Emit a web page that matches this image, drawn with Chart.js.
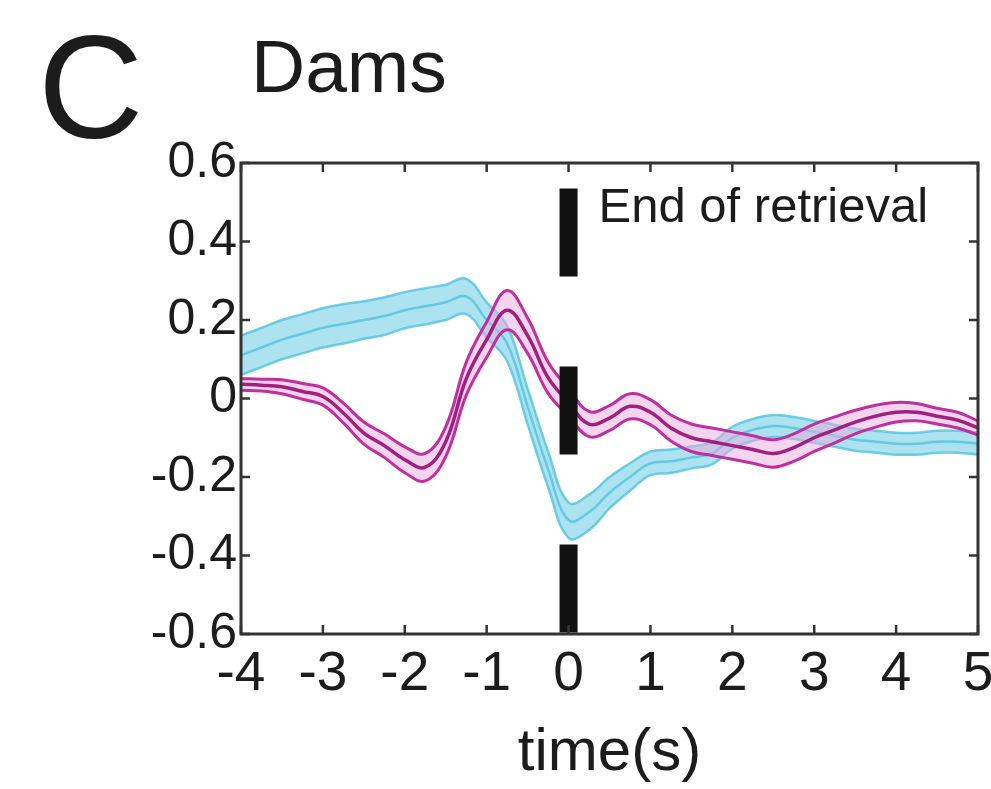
<!DOCTYPE html>
<html><head><meta charset="utf-8">
<script src="https://cdn.jsdelivr.net/npm/chart.js@4.4.1/dist/chart.umd.min.js"></script>
<style>html,body{margin:0;padding:0;background:#fff;} #wrap{position:relative;width:991px;height:789px;}</style>
</head><body><div id="wrap"><canvas id="c" width="991" height="789"></canvas></div>
<script>
// ---- data ----
const panelLetter = 'C';
const panelTitle = 'Dams';
const eventLabel = 'End of retrieval';
const xTitle = 'time(s)';
const xTicks = [-4, -3, -2, -1, 0, 1, 2, 3, 4, 5];
const yTicks = [-0.6, -0.4, -0.2, 0, 0.2, 0.4, 0.6];
const yTickLabels = ['-0.6', '-0.4', '-0.2', '0', '0.2', '0.4', '0.6'];

const timeS = [-4, -3.75, -3.5, -3.25, -3, -2.75, -2.5, -2.25, -2, -1.75, -1.5, -1.25, -1, -0.75, -0.5, -0.25,
  0, 0.25, 0.5, 0.75, 1, 1.25, 1.5, 1.75, 2, 2.25, 2.5, 2.75, 3, 3.25, 3.5, 3.75, 4, 4.25, 4.5, 4.75, 5];

const magentaMean = [0.036, 0.034, 0.03, 0.018, 0.005, -0.037, -0.088, -0.12, -0.156, -0.175, -0.11, 0.05, 0.15, 0.225, 0.16, 0.053,
  -0.01, -0.065, -0.05, -0.02, -0.035, -0.075, -0.1, -0.11, -0.12, -0.13, -0.14, -0.125, -0.1, -0.08, -0.06, -0.045, -0.035, -0.035, -0.045, -0.055, -0.075];
const magentaSem = [0.015, 0.015, 0.018, 0.02, 0.022, 0.025, 0.028, 0.03, 0.033, 0.035, 0.038, 0.042, 0.045, 0.05, 0.045, 0.04,
  0.035, 0.032, 0.032, 0.032, 0.032, 0.033, 0.035, 0.035, 0.035, 0.035, 0.035, 0.035, 0.035, 0.033, 0.03, 0.028, 0.025, 0.022, 0.02, 0.02, 0.018];

const cyanMean = [0.11, 0.13, 0.15, 0.165, 0.18, 0.19, 0.2, 0.21, 0.225, 0.235, 0.245, 0.26, 0.2, 0.14, -0.02, -0.18,
  -0.31, -0.29, -0.24, -0.2, -0.165, -0.16, -0.15, -0.14, -0.1, -0.08, -0.07, -0.075, -0.085, -0.095, -0.105, -0.11, -0.115, -0.115, -0.11, -0.11, -0.115];
const cyanSem = [0.05, 0.05, 0.05, 0.05, 0.05, 0.05, 0.048, 0.048, 0.046, 0.046, 0.045, 0.045, 0.045, 0.045, 0.045, 0.045,
  0.045, 0.045, 0.04, 0.035, 0.03, 0.03, 0.028, 0.028, 0.028, 0.028, 0.028, 0.028, 0.028, 0.028, 0.028, 0.028, 0.028, 0.028, 0.028, 0.028, 0.028];

const eventTime = 0;
const eventBarTop = 0.535;
const eventBarBottom = -0.6;

// ---- build ----
const pts = (m, s, k) => timeS.map((t, i) => ({x: t, y: m[i] + k * s[i]}));
const FONT = "'Liberation Sans', Arial, Helvetica, sans-serif";
const INK = '#1c1c1c';

const CYAN_LINE = 'rgba(88,198,222,0.85)';
const CYAN_FILL = 'rgba(105,203,227,0.55)';
const MAG_LINE = '#c02f9e';
const MAG_MEAN = '#a0207f';
const MAG_FILL = 'rgba(236,170,222,0.5)';

const frameTicks = {
  id: 'frameTicks',
  afterDatasetsDraw(chart) {
    const {ctx, chartArea: a, scales: {x, y}} = chart;
    ctx.save();
    ctx.strokeStyle = '#333';
    ctx.lineWidth = 2.5;
    const L = 9;
    ctx.beginPath();
    xTicks.forEach(v => {
      const px = x.getPixelForValue(v);
      ctx.moveTo(px, a.bottom); ctx.lineTo(px, a.bottom - L);
      ctx.moveTo(px, a.top); ctx.lineTo(px, a.top + L);
    });
    yTicks.forEach(v => {
      const py = y.getPixelForValue(v);
      ctx.moveTo(a.left, py); ctx.lineTo(a.left + L, py);
      ctx.moveTo(a.right, py); ctx.lineTo(a.right - L, py);
    });
    ctx.stroke();
    ctx.lineWidth = 3;
    ctx.strokeRect(a.left, a.top, a.right - a.left, a.bottom - a.top);
    // annotation text
    ctx.fillStyle = INK;
    ctx.font = '49px ' + FONT;
    ctx.textBaseline = 'alphabetic';
    ctx.textAlign = 'left';
    ctx.fillText(eventLabel, x.getPixelForValue(eventTime) + 30, 222);
    // panel letter and title
    ctx.font = '146px ' + FONT;
    ctx.fillText(panelLetter, 38, 138);
    ctx.font = '75px ' + FONT;
    ctx.fillText(panelTitle, 251, 92);
    ctx.restore();
  }
};

new Chart(document.getElementById('c'), {
  type: 'line',
  data: {
    datasets: [
      {data: [{x: eventTime, y: eventBarTop}, {x: eventTime, y: eventBarBottom}], borderColor: '#111', borderWidth: 18,
        borderDash: [88, 90], borderCapStyle: 'butt', pointRadius: 0, fill: false, order: 0},
      {data: pts(magentaMean, magentaSem, 1), borderColor: MAG_LINE, borderWidth: 3, backgroundColor: MAG_FILL, fill: '+1', pointRadius: 0, tension: 0.4, order: 3},
      {data: pts(magentaMean, magentaSem, -1), borderColor: MAG_LINE, borderWidth: 3, pointRadius: 0, fill: false, tension: 0.4, order: 2},
      {data: pts(magentaMean, magentaSem, 0), borderColor: MAG_MEAN, borderWidth: 3.5, pointRadius: 0, fill: false, tension: 0.4, order: 1},
      {data: pts(cyanMean, cyanSem, 1), borderColor: CYAN_LINE, borderWidth: 2.5, backgroundColor: CYAN_FILL, fill: '+1', pointRadius: 0, tension: 0.4, order: 6},
      {data: pts(cyanMean, cyanSem, -1), borderColor: CYAN_LINE, borderWidth: 2.5, pointRadius: 0, fill: false, tension: 0.4, order: 5},
      {data: pts(cyanMean, cyanSem, 0), borderColor: CYAN_LINE, borderWidth: 2.5, pointRadius: 0, fill: false, tension: 0.4, order: 4}
    ]
  },
  options: {
    responsive: false,
    animation: false,
    events: [],
    layout: {padding: {left: 0, right: 13, top: 163, bottom: 0}},
    plugins: {legend: {display: false}, tooltip: {enabled: false}},
    scales: {
      x: {
        type: 'linear', min: -4, max: 5,
        afterBuildTicks: s => { s.ticks = xTicks.map(v => ({value: v})); },
        afterFit: s => { s.height = 155; s.paddingLeft = 0; s.paddingRight = 0; },
        grid: {display: false, drawTicks: false},
        border: {display: false},
        ticks: {color: INK, font: {family: FONT, size: 55}, padding: 8, maxRotation: 0, autoSkip: false,
          callback: v => String(v)},
        title: {display: true, text: xTitle, color: INK, font: {family: FONT, size: 60}, padding: {top: 0, bottom: 0}}
      },
      y: {
        min: -0.6, max: 0.6,
        afterBuildTicks: s => { s.ticks = yTicks.map(v => ({value: v})); },
        afterFit: s => { s.width = 241; s.paddingTop = 0; s.paddingBottom = 0; },
        grid: {display: false, drawTicks: false},
        border: {display: false},
        ticks: {color: INK, font: {family: FONT, size: 50}, padding: 4, autoSkip: false,
          callback: v => yTickLabels[yTicks.findIndex(t => Math.abs(t - v) < 1e-9)]}
      }
    }
  },
  plugins: [frameTicks]
});
</script></body></html>
